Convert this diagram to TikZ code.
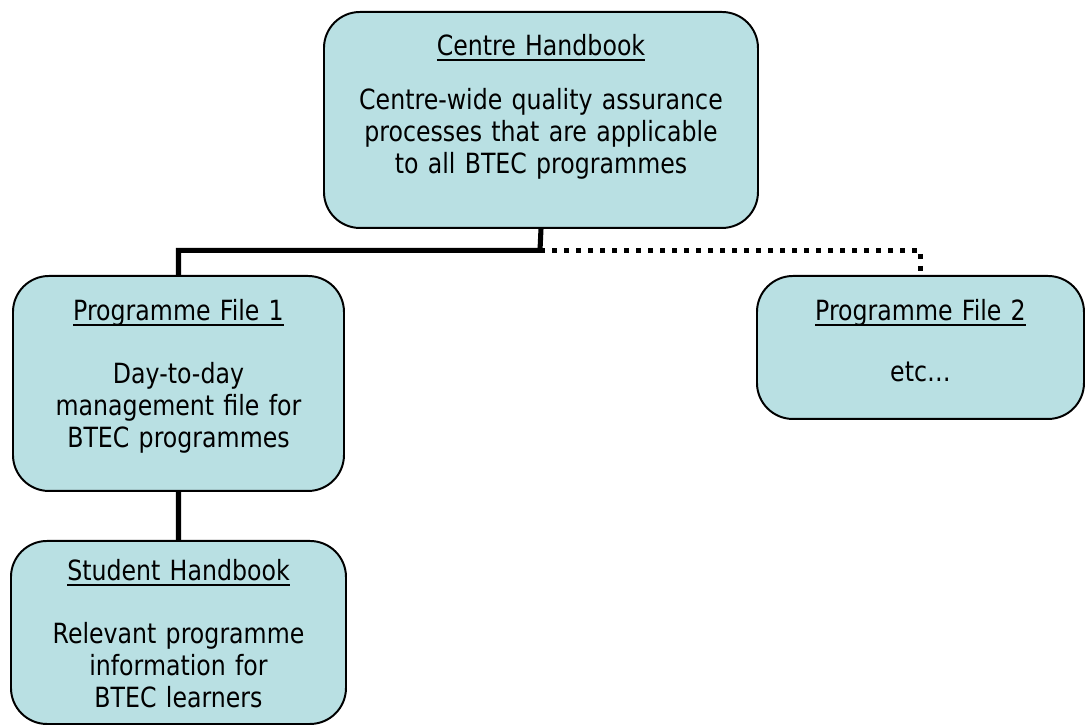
\documentclass[tikz,border=0pt]{standalone}
\usepackage{fontspec}
\setmainfont[FakeStretch=0.85]{DejaVu Sans}
\usepackage{xcolor}
\definecolor{paleteal}{HTML}{B9E0E3}
\usetikzlibrary{arrows.meta,positioning,calc}
\tikzset{
  card/.style   ={draw=black,fill=paleteal,line width=1.4pt,rounded corners=0.9cm,
                  anchor=north west,align=center,inner xsep=0pt,inner ysep=0pt,
                  font=\fontsize{19.8}{22.8}\selectfont},
  link/.style   ={draw=black,line width=3.6pt},
  pending/.style={link,dash pattern=on 0.125cm off 0.175cm},
}
\newcommand{\boxtitle}[1]{\setbox0\hbox{#1}\rlap{\rule[-0.19em]{\wd0}{0.09em}}\box0}

\begin{document}
\begin{tikzpicture}[x=1cm,y=1cm]
\useasboundingbox (0,0) rectangle (27.125,18.15);
% ---- top of the tree
\node[card,text width=10.85cm,text height=1.1cm,text depth=4.3cm] (centre) at (8.075,17.875)
 {\boxtitle{Centre Handbook}\\[0.525cm]
  Centre-wide quality assurance\\
  processes that are applicable\\
  to all BTEC programmes};

% ---- programme files
\node[card,text width=8.275cm,text height=1.125cm,text depth=4.25cm] (pf1) at (0.3,11.275)
 {\boxtitle{Programme File 1}\\[0.75cm]
  Day-to-day\\
  management file for\\
  BTEC programmes};
\node[card,text width=8.175cm,text height=1.125cm,text depth=2.45cm] (pf2) at (18.9,11.275)
 {\boxtitle{Programme File 2}\\[0.7cm]
  etc…};

% ---- learners
\node[card,text width=8.375cm,text height=1.0cm,text depth=3.575cm] (sh) at (0.25,4.65)
 {\boxtitle{Student Handbook}\\[0.75cm]
  Relevant programme\\
  information for\\
  BTEC learners};

% ---- connectors
\coordinate (bus) at (13.5,11.89);
\draw[link] (centre.south) -- (bus) -| (pf1.north);
\draw[pending] (bus) -| (pf2.north);
\draw[link] (pf1.south) -- (sh.north);
\end{tikzpicture}
\end{document}
